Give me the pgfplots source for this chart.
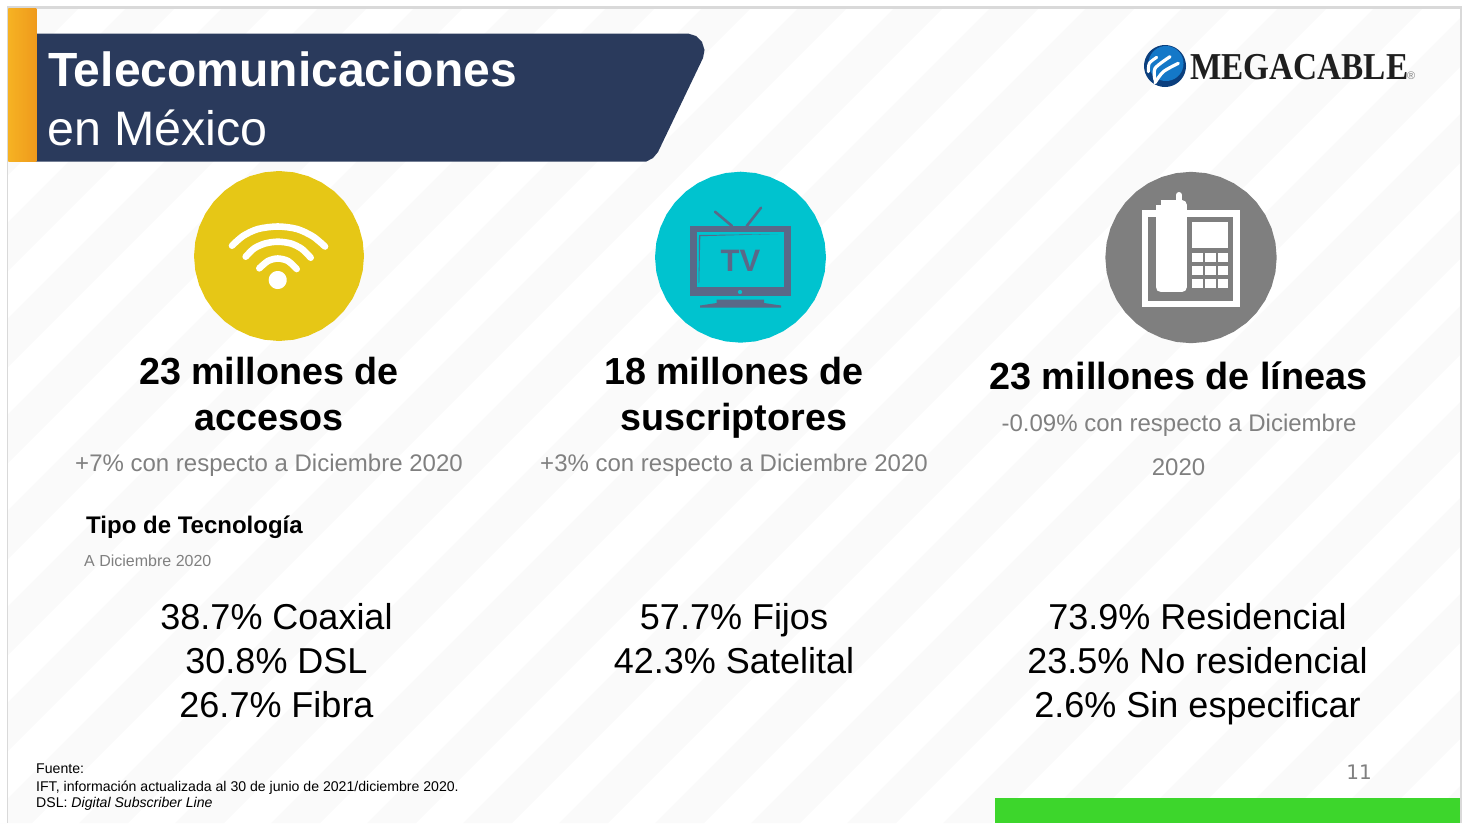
\documentclass[border=0pt]{standalone}
\usepackage{fontspec}
\usepackage{graphicx}
\usepackage{pgfplots}
\usepackage{pgfplotstable}
\pgfplotsset{compat=1.18}
\setmainfont{Liberation Sans}
\newfontfamily\logofont{Liberation Serif}
\newfontfamily\pagefont{DejaVu Sans}

\definecolor{stripe}{HTML}{FAFAFA}
\definecolor{edge}{HTML}{D9D9D9}
\definecolor{navy}{HTML}{2A3A5C}
\definecolor{orA}{HTML}{F6B223}
\definecolor{orB}{HTML}{EF9A1C}
\definecolor{wifi}{HTML}{E6C716}
\definecolor{teal}{HTML}{00C3CF}
\definecolor{tvink}{HTML}{5A6888}
\definecolor{phone}{HTML}{7F7F7F}
\definecolor{subt}{HTML}{808080}
\definecolor{green}{HTML}{3DD62C}
\definecolor{globeA}{HTML}{0B3F7E}
\definecolor{globeB}{HTML}{1478C8}

% outline used for every round shape
\pgfplotstableread{
u v
1 0
.9848 .1736
.9397 .3420
.8660 .5
.7660 .6428
.6428 .7660
.5 .8660
.3420 .9397
.1736 .9848
0 1
-.1736 .9848
-.3420 .9397
-.5 .8660
-.6428 .7660
-.7660 .6428
-.8660 .5
-.9397 .3420
-.9848 .1736
-1 0
-.9848 -.1736
-.9397 -.3420
-.8660 -.5
-.7660 -.6428
-.6428 -.7660
-.5 -.8660
-.3420 -.9397
-.1736 -.9848
0 -1
.1736 -.9848
.3420 -.9397
.5 -.8660
.6428 -.7660
.7660 -.6428
.8660 -.5
.9397 -.3420
.9848 -.1736
}\roundshape

% x, y in reference pixels (1pt = 1px)
\newcommand{\stripe}[4]{\addplot[fill=stripe,draw=none] coordinates {(#1,0)(#2,0)(#3,823)(#4,823)};}
\newcommand{\rect}[5]{\addplot[fill=#1,draw=none] coordinates {(#2,#3)(#4,#3)(#4,#5)(#2,#5)};}
\newcommand{\disc}[4]{\addplot[fill=#1,draw=none] table[x expr=\thisrow{u}*#4+#2,y expr=\thisrow{v}*#4+#3] {\roundshape};}
\newcommand{\txt}[6]{\node[anchor=#3,inner sep=0pt,text=#5,font=\fontsize{#4}{#4}\selectfont] at (axis cs:#1,#2) {#6};}

\begin{document}
\begin{tikzpicture}
\begin{axis}[
    scale only axis,
    width=1463pt,
    height=823pt,
    xmin=0, xmax=1463,
    ymin=0, ymax=823,
    y dir=reverse,
    hide axis,
]
% background stripes
\stripe{38}{87}{-736}{-785}
\stripe{134}{183}{-640}{-689}
\stripe{230}{279}{-544}{-593}
\stripe{326}{375}{-448}{-497}
\stripe{422}{471}{-352}{-401}
\stripe{518}{567}{-256}{-305}
\stripe{614}{663}{-160}{-209}
\stripe{710}{759}{-64}{-113}
\stripe{806}{855}{32}{-17}
\stripe{902}{951}{128}{79}
\stripe{998}{1047}{224}{175}
\stripe{1094}{1143}{320}{271}
\stripe{1190}{1239}{416}{367}
\stripe{1286}{1335}{512}{463}
\stripe{1382}{1431}{608}{559}
\stripe{1478}{1527}{704}{655}
\stripe{1574}{1623}{800}{751}
\stripe{1670}{1719}{896}{847}
\stripe{1766}{1815}{992}{943}
\stripe{1862}{1911}{1088}{1039}
\stripe{1958}{2007}{1184}{1135}
\stripe{2054}{2103}{1280}{1231}
\stripe{2150}{2199}{1376}{1327}
\stripe{2246}{2295}{1472}{1423}

% slide edge
\rect{white}{0}{0}{6.5}{823}
\rect{white}{0}{0}{1463}{5.5}
\rect{white}{1462}{0}{1463}{823}
\rect{edge}{6.5}{5.5}{8.4}{823}
\rect{edge}{6.5}{5.5}{1462}{8.5}
\rect{edge}{1459.5}{5.5}{1462}{823}
\rect{green}{994.5}{797.7}{1459.5}{823}

% banner
\addplot[fill=navy,draw=none] coordinates {
    (36,33.5)(688,33.5)(696,36)(702,42)(704.5,50)(703,58)
    (658,152)(653,158)(646,161.7)(36,161.7)};
\addplot[draw=none,left color=orA,right color=orB] coordinates {
    (8.4,8.7)(36.3,8.7)(36.3,161.7)(8.4,161.7)};

% wifi icon
\disc{wifi}{279}{256}{85}
\addplot[white,line width=6.6pt,line cap=round,smooth] coordinates {
    (232,245.7)(243,236)(258,229)(277.7,226.5)(297,229)(313,236.5)(325,246.5)};
\addplot[white,line width=6.6pt,line cap=round,smooth] coordinates {
    (245.7,256.7)(254,248.5)(265,243.5)(277.7,241.7)(291,243.5)(302,249)(310.7,257.7)};
\addplot[white,line width=6.6pt,line cap=round,smooth] coordinates {
    (259.3,268.3)(268,261)(277.7,258.5)(288,261)(296.7,269)};
\disc{white}{277.7}{280}{9}

% tv icon
\disc{teal}{740.5}{257.2}{85.5}
\addplot[tvink,line width=2.6pt,line cap=round] coordinates {(715,211.7)(732,226)};
\addplot[tvink,line width=2.6pt,line cap=round] coordinates {(761,207.7)(746.7,226)};
\rect{tvink}{690}{226}{790.7}{296}
\rect{teal}{696.5}{232.2}{784}{286.7}
\addplot[fill=tvink,draw=none] coordinates {(699,235)(778,234)(700.3,236.2)(699.2,283)(698.6,283)};
\disc{teal}{740}{292}{2}
\addplot[fill=tvink,draw=none] coordinates {
    (716.7,299.5)(764,299.5)(764,303)(781,305.5)(781,307.5)(700,307.5)(700,305.5)(716.7,303)};
\txt{740.5}{271}{base}{31}{tvink}{\bfseries TV}

% phone icon
\disc{phone}{1191}{257.5}{85.7}
\rect{white}{1141.7}{210}{1240}{307.3}
\rect{phone}{1148.3}{216.7}{1233.3}{300.7}
\addplot[white,line width=6pt,line cap=round] coordinates {(1179,195)(1179,205)};
\addplot[fill=white,draw=white,line width=10pt,line join=round] coordinates {
    (1160.7,205)(1181.7,205)(1181.7,287.3)(1160.7,287.3)(1160.7,205)};
\rect{white}{1191.7}{221.7}{1228.3}{248.3}
\rect{white}{1191.7}{252.7}{1202.7}{261.7}
\rect{white}{1205}{252.7}{1216}{261.7}
\rect{white}{1218.3}{252.7}{1228.3}{261.7}
\rect{white}{1191.7}{266}{1202.7}{275}
\rect{white}{1205}{266}{1216}{275}
\rect{white}{1218.3}{266}{1228.3}{275}
\rect{white}{1191.7}{279}{1202.7}{288}
\rect{white}{1205}{279}{1216}{288}
\rect{white}{1218.3}{279}{1228.3}{288}

% logo
\disc{globeA}{1165}{66}{21}
\disc{globeB}{1166}{63.5}{17.5}
\addplot[white,line width=3pt,line cap=round,smooth] coordinates {(1148.3,71.7)(1149.3,63.3)(1156.7,57.3)};
\addplot[white,line width=3.2pt,line cap=round,smooth] coordinates {(1155,80)(1155,68.3)(1170,56.7)};
\addplot[white,line width=3.2pt,line cap=round,smooth] coordinates {(1155,82.7)(1163.3,71.7)(1178.3,63.3)};
\node[anchor=base west,inner sep=0pt,text=black!88,font=\logofont\bfseries\fontsize{38}{38}\selectfont]
    at (axis cs:1190,79) {\scalebox{0.875}[1]{MEGACABLE}};
\txt{1407}{79}{base west}{11}{gray}{®}

% title
\txt{48}{86.5}{base west}{48}{white}{\bfseries Telecomunicaciones}
\txt{47}{145}{base west}{48.4}{white}{en México}

% headlines
\txt{269}{384}{base}{37.7}{black}{\bfseries 23 millones de}
\txt{269}{430}{base}{37.7}{black}{\bfseries accesos}
\txt{734}{384}{base}{37.7}{black}{\bfseries 18 millones de}
\txt{734}{430}{base}{37.7}{black}{\bfseries suscriptores}
\txt{1178.5}{389.5}{base}{37.8}{black}{\bfseries 23 millones de líneas}

\txt{269}{471}{base}{24}{subt}{+7\% con respecto a Diciembre 2020}
\txt{734}{471}{base}{24}{subt}{+3\% con respecto a Diciembre 2020}
\txt{1179}{431}{base}{24}{subt}{-0.09\% con respecto a Diciembre}
\txt{1178.5}{475}{base}{24}{subt}{2020}

\txt{86}{533}{base west}{24}{black}{\bfseries Tipo de Tecnología}
\txt{84}{566}{base west}{16}{subt}{A Diciembre 2020}

% shares by technology
\txt{276.5}{629}{base}{36}{black}{38.7\% Coaxial}
\txt{276.5}{673}{base}{36}{black}{30.8\% DSL}
\txt{276.5}{717}{base}{36}{black}{26.7\% Fibra}
\txt{734}{629}{base}{36}{black}{57.7\% Fijos}
\txt{734}{673}{base}{36}{black}{42.3\% Satelital}
\txt{1197.5}{629}{base}{36}{black}{73.9\% Residencial}
\txt{1197.5}{673}{base}{36}{black}{23.5\% No residencial}
\txt{1197.5}{717}{base}{36}{black}{2.6\% Sin especificar}

% footer
\txt{36}{773}{base west}{14.1}{black}{Fuente:}
\txt{36}{791}{base west}{14.1}{black}{IFT, información actualizada al 30 de junio de 2021/diciembre 2020.}
\txt{36}{807}{base west}{14.1}{black}{DSL: \textit{Digital Subscriber Line}}
\node[anchor=base,inner sep=0pt,text=subt,font=\pagefont\fontsize{20}{20}\selectfont] at (axis cs:1359,779) {11};
\end{axis}
\end{tikzpicture}
\end{document}
